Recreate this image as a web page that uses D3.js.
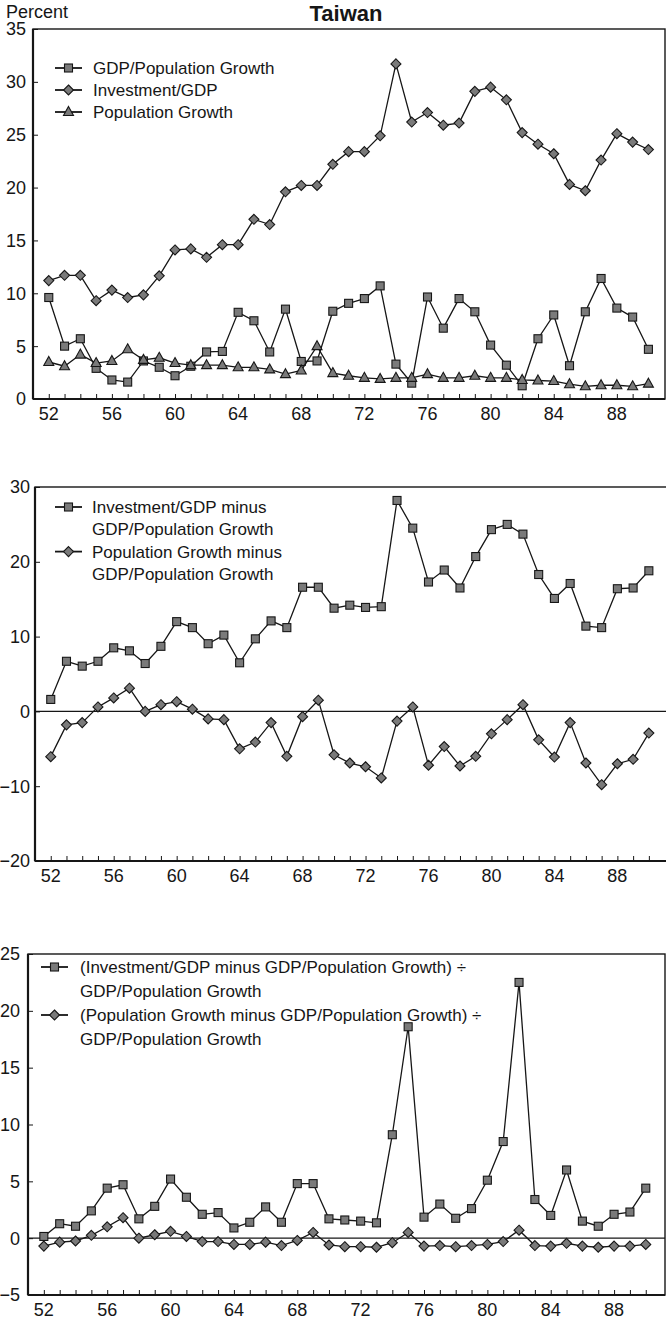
<!DOCTYPE html>
<html>
<head>
<meta charset="utf-8">
<script src="https://cdn.jsdelivr.net/npm/d3@7"></script>
<style>
  body { margin: 0; background: #fff; }
  svg { display: block; font-family: "Liberation Sans", Arial, sans-serif; }
</style>
</head>
<body>
<svg id="chart" width="666" height="1321"></svg>
<script>
// years 1952..1990
const years = d3.range(52, 91);

// panel 1
const gdpPopGrowth = [9.6, 5.0, 5.7, 2.9, 1.8, 1.6, 3.6, 3.0, 2.2, 3.1, 4.45, 4.5, 8.2, 7.4, 4.45, 8.5, 3.55, 3.6, 8.3,
  9.05, 9.5, 10.7, 3.3, 1.5, 9.65, 6.7, 9.5, 8.25, 5.1, 3.2, 1.25, 5.7, 7.95, 3.15, 8.25, 11.4, 8.6, 7.75, 4.7];
const investGdp = [11.2, 11.7, 11.7, 9.3, 10.3, 9.6, 9.85, 11.65, 14.1, 14.2, 13.4, 14.6, 14.6, 17.0, 16.5, 19.6, 20.2, 20.2, 22.2,
  23.4, 23.4, 24.9, 31.7, 26.2, 27.1, 25.9, 26.1, 29.1, 29.5, 28.3, 25.2, 24.1, 23.2, 20.3, 19.7, 22.6, 25.1, 24.3, 23.6];
const popGrowth = [3.5, 3.1, 4.2, 3.4, 3.6, 4.7, 3.7, 3.9, 3.4, 3.2, 3.2, 3.2, 3.0, 3.0, 2.8, 2.35, 2.7, 5.0, 2.45,
  2.2, 2.0, 1.9, 2.0, 2.0, 2.35, 2.0, 2.0, 2.2, 2.0, 2.0, 1.8, 1.75, 1.7, 1.4, 1.2, 1.3, 1.3, 1.2, 1.45];

// panel 2
const invMinusGdp = [1.6, 6.7, 6.05, 6.7, 8.5, 8.1, 6.4, 8.7, 12.0, 11.2, 9.05, 10.2, 6.5, 9.7, 12.1, 11.2, 16.6, 16.6, 13.8,
  14.2, 13.9, 14.0, 28.2, 24.5, 17.3, 18.9, 16.5, 20.7, 24.3, 25.0, 23.7, 18.3, 15.1, 17.1, 11.4, 11.2, 16.4, 16.5, 18.8];
const popMinusGdp = [-6.05, -1.8, -1.5, 0.6, 1.8, 3.1, 0, 0.9, 1.3, 0.3, -1.0, -1.1, -5.0, -4.1, -1.5, -6.0, -0.7, 1.5, -5.8,
  -6.9, -7.4, -8.9, -1.3, 0.6, -7.2, -4.7, -7.3, -6.0, -3.0, -1.1, 0.9, -3.8, -6.1, -1.5, -6.9, -9.8, -7.0, -6.4, -2.9];

// panel 3
const invRatio = [0.15, 1.27, 1.05, 2.4, 4.4, 4.7, 1.7, 2.8, 5.2, 3.6, 2.1, 2.25, 0.9, 1.4, 2.75, 1.4, 4.8, 4.8, 1.7,
  1.6, 1.5, 1.35, 9.1, 18.6, 1.85, 3.0, 1.75, 2.6, 5.1, 8.5, 22.5, 3.4, 2.0, 6.0, 1.5, 1.05, 2.1, 2.3, 4.4];
const popRatio = [-0.7, -0.35, -0.25, 0.25, 1.0, 1.8, 0, 0.3, 0.6, 0.15, -0.3, -0.3, -0.55, -0.55, -0.35, -0.65, -0.2, 0.5, -0.6,
  -0.75, -0.75, -0.8, -0.4, 0.5, -0.7, -0.65, -0.75, -0.65, -0.55, -0.3, 0.7, -0.65, -0.7, -0.45, -0.7, -0.8, -0.7, -0.7, -0.55];

const xTickLabels = [52, 56, 60, 64, 68, 72, 76, 80, 84, 88];

const svg = d3.select('#chart');
const ink = '#161616';
const markFill = '#7a7a7a';

function marker(g, shape, x, y) {
  if (shape === 'square') {
    g.append('rect').attr('x', x - 4).attr('y', y - 4).attr('width', 8).attr('height', 8)
      .attr('fill', markFill).attr('stroke', ink).attr('stroke-width', 1.1);
  } else if (shape === 'diamond') {
    g.append('path').attr('d', `M${x},${y - 5}L${x + 5},${y}L${x},${y + 5}L${x - 5},${y}Z`)
      .attr('fill', markFill).attr('stroke', ink).attr('stroke-width', 1.1);
  } else {
    g.append('path').attr('d', `M${x},${y - 5.5}L${x + 5},${y + 3.5}L${x - 5},${y + 3.5}Z`)
      .attr('fill', markFill).attr('stroke', ink).attr('stroke-width', 1.1);
  }
}

function panel(cfg) {
  let g = svg.append('g');
  let x = d3.scaleLinear().domain([51, 91]).range([cfg.left, cfg.left + 40 * cfg.step]);
  let y = d3.scaleLinear().domain(cfg.yDomain).range([cfg.bottom, cfg.top]);

  // frame
  g.append('rect').attr('x', cfg.left).attr('y', cfg.top)
    .attr('width', cfg.right - cfg.left).attr('height', cfg.bottom - cfg.top)
    .attr('fill', 'none').attr('stroke', ink).attr('stroke-width', 1.4);
  g.append('line').attr('x1', cfg.left).attr('x2', cfg.left).attr('y1', cfg.top).attr('y2', cfg.bottom)
    .attr('stroke', ink).attr('stroke-width', 2.2);
  g.append('line').attr('x1', cfg.left).attr('x2', cfg.right).attr('y1', cfg.bottom).attr('y2', cfg.bottom)
    .attr('stroke', ink).attr('stroke-width', 2.2);

  if (cfg.yDomain[0] < 0) {
    g.append('line').attr('x1', cfg.left).attr('x2', cfg.right).attr('y1', y(0)).attr('y2', y(0))
      .attr('stroke', ink).attr('stroke-width', 1.3);
  }

  // y axis: ticks inward
  let yAxis = d3.axisRight(y).tickValues(cfg.yTicks).tickSize(5).tickFormat('');
  g.append('g').attr('transform', `translate(${cfg.left},0)`).call(yAxis)
    .call(a => a.select('.domain').remove())
    .selectAll('line').attr('stroke', ink);
  g.selectAll('.ylab').data(cfg.yTicks).enter().append('text')
    .attr('x', cfg.labelRight).attr('y', d => y(d)).attr('dy', '0.36em')
    .attr('text-anchor', 'end').attr('font-size', 18).attr('fill', ink)
    .text(d => d < 0 ? '\u2212' + Math.abs(d) : d);

  // x axis: a tick per year pointing up
  let xAxis = d3.axisTop(x).tickValues(years).tickSize(5).tickFormat('');
  g.append('g').attr('transform', `translate(0,${cfg.bottom})`).call(xAxis)
    .call(a => a.select('.domain').remove())
    .selectAll('line').attr('stroke', ink);
  g.selectAll('.xlab').data(xTickLabels).enter().append('text')
    .attr('x', d => x(d)).attr('y', cfg.bottom + 21)
    .attr('text-anchor', 'middle').attr('font-size', 18).attr('fill', ink)
    .text(d => d);

  let line = d3.line().x((d, i) => x(years[i])).y(d => y(d));
  cfg.series.forEach(s => {
    g.append('path').attr('d', line(s.values)).attr('fill', 'none')
      .attr('stroke', ink).attr('stroke-width', 1.3);
    s.values.forEach((v, i) => marker(g, s.shape, x(years[i]), y(v)));
  });

  // legend
  let ly = cfg.legend.y;
  cfg.series.forEach(s => {
    g.append('line').attr('x1', cfg.legend.x).attr('x2', cfg.legend.x + 27)
      .attr('y1', ly).attr('y2', ly).attr('stroke', ink).attr('stroke-width', 1.8);
    marker(g, s.shape, cfg.legend.x + 13.5, ly);
    s.label.forEach((t, k) => {
      g.append('text').attr('x', cfg.legend.x + cfg.legend.gap).attr('y', ly + k * cfg.legend.lineH)
        .attr('dy', '0.36em').attr('font-size', 17).attr('fill', ink).text(t);
    });
    ly += s.label.length * cfg.legend.lineH;
  });
}

svg.append('text').attr('x', 6).attr('y', 18).attr('font-size', 18).attr('fill', ink).text('Percent');
svg.append('text').attr('x', 346).attr('y', 21).attr('text-anchor', 'middle')
  .attr('font-size', 22).attr('font-weight', 'bold').attr('fill', ink).text('Taiwan');

panel({
  left: 33, right: 665, top: 29, bottom: 399, step: 15.78, labelRight: 26,
  yDomain: [0, 35], yTicks: [0, 5, 10, 15, 20, 25, 30, 35],
  legend: { x: 55, y: 68, gap: 38, lineH: 22 },
  series: [
    { values: gdpPopGrowth, shape: 'square', label: ['GDP/Population Growth'] },
    { values: investGdp, shape: 'diamond', label: ['Investment/GDP'] },
    { values: popGrowth, shape: 'triangle', label: ['Population Growth'] }
  ]
});

panel({
  left: 35, right: 667, top: 487, bottom: 861, step: 15.74, labelRight: 30,
  yDomain: [-20, 30], yTicks: [-20, -10, 0, 10, 20, 30],
  legend: { x: 55, y: 507, gap: 37, lineH: 22.3 },
  series: [
    { values: invMinusGdp, shape: 'square', label: ['Investment/GDP minus', 'GDP/Population Growth'] },
    { values: popMinusGdp, shape: 'diamond', label: ['Population Growth minus', 'GDP/Population Growth'] }
  ]
});

panel({
  left: 28, right: 665, top: 954, bottom: 1295, step: 15.84, labelRight: 20,
  yDomain: [-5, 25], yTicks: [-5, 0, 5, 10, 15, 20, 25],
  legend: { x: 41, y: 967, gap: 39, lineH: 24 },
  series: [
    { values: invRatio, shape: 'square', label: ['(Investment/GDP minus GDP/Population Growth) \u00f7', 'GDP/Population Growth'] },
    { values: popRatio, shape: 'diamond', label: ['(Population Growth minus GDP/Population Growth) \u00f7', 'GDP/Population Growth'] }
  ]
});
</script>
</body>
</html>
